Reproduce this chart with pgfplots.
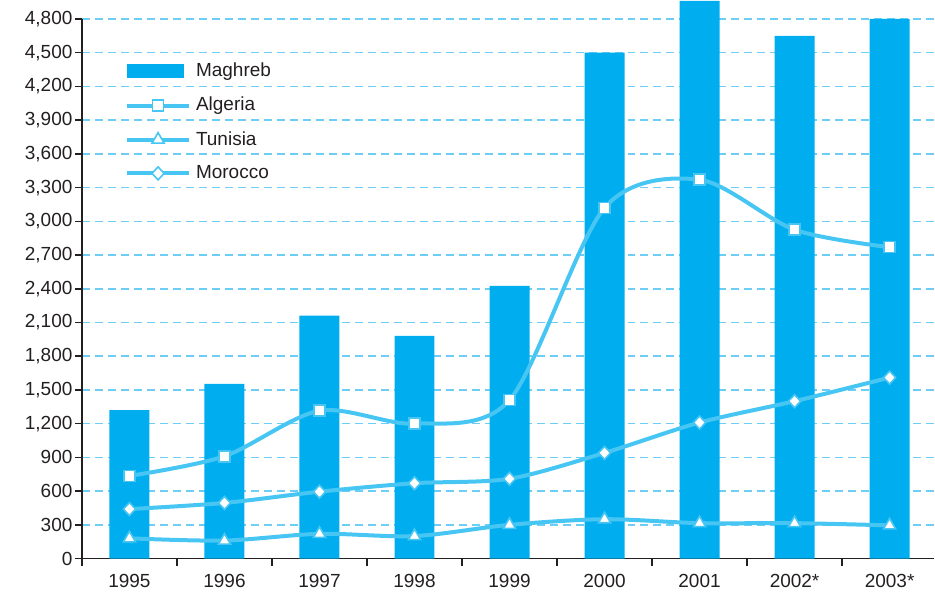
\documentclass[border=0pt]{standalone}
\usepackage{fontspec}
\setmainfont{Liberation Sans}
\usepackage{pgfplots}
\pgfplotsset{compat=1.18}
\definecolor{barc}{RGB}{0,174,239}
\definecolor{linec}{RGB}{72,198,243}
\definecolor{gridc}{RGB}{110,205,245}
\definecolor{axc}{RGB}{35,31,32}
\pgfplotsset{
  lineleg/.style={legend image code/.code={\draw[##1, mark repeat=2, mark phase=2] plot coordinates {(0pt,0pt) (31pt,0pt) (62pt,0pt)};}},
}
\begin{document}
\fontsize{19}{23}\selectfont
\begin{tikzpicture}
\begin{axis}[
  scale only axis, width=853pt, height=540pt,
  xmin=-0.5, xmax=8.47, ymin=0, ymax=4800,
  clip=false,
  axis x line*=bottom, axis y line*=left,
  axis line style={axc, line width=1.5pt},
  xtick={0,...,8},
  xticklabels={1995,1996,1997,1998,1999,2000,2001,2002*,2003*},
  minor xtick={-0.5,0.5,...,7.5},
  major x tick style={draw=none},
  minor x tick style={axc, line width=1.5pt},
  minor tick length=7pt,
  ytick={0,300,...,4800},
  y tick style={axc, line width=1.5pt},
  major tick length=7pt,
  tick align=outside,
  ymajorgrids,
  major y grid style={gridc, line width=1.5pt, dash pattern=on 8pt off 5pt},
  /pgf/number format/1000 sep={,},
  /pgf/number format/assume math mode=true,
  tick label style={font=\fontsize{19}{23}\selectfont, text=axc},
  yticklabel style={xshift=4pt},
  xticklabel style={yshift=-2pt},
  legend style={at={(axis description cs:0,1)}, anchor=north west, xshift=40pt, yshift=-40pt,
    draw=none, fill=none, font=\fontsize{19}{23}\selectfont, text=axc, row sep=13.5pt, column sep=3pt},
  legend cell align=left,
]
\path (rel axis cs:0,0) ++(-82pt,-38pt) rectangle ++(935pt,597pt);
\addplot[ybar, bar width=40pt, fill=barc, draw=none,
  legend image code/.code={\fill[barc] (0pt,-7pt) rectangle (57pt,7pt);}]
  coordinates {(0,1320) (1,1555) (2,2160) (3,1980) (4,2425) (5,4500) (6,4960) (7,4650) (8,4800)};
\addlegendentry{Maghreb}
\addplot[linec, line width=4pt, smooth, tension=0.5, lineleg,
  mark=square*, mark size=5.5pt, mark options={fill=white, draw=linec, line width=1.6pt}]
  coordinates {(0,735) (1,910) (2,1315) (3,1200) (4,1410) (5,3120) (6,3370) (7,2925) (8,2770)};
\addlegendentry{Algeria}
\addplot[linec, line width=4pt, smooth, tension=0.5, lineleg,
  mark=triangle*, mark size=7pt, mark options={fill=white, draw=linec, line width=1.6pt}]
  coordinates {(0,180) (1,160) (2,220) (3,200) (4,300) (5,350) (6,315) (7,315) (8,295)};
\addlegendentry{Tunisia}
\addplot[linec, line width=4pt, smooth, tension=0.5, lineleg,
  mark=diamond*, mark size=6.5pt, mark options={fill=white, draw=linec, line width=1.6pt, xscale=1.25}]
  coordinates {(0,440) (1,495) (2,595) (3,670) (4,710) (5,940) (6,1210) (7,1400) (8,1610)};
\addlegendentry{Morocco}
\end{axis}
\end{tikzpicture}
\end{document}
